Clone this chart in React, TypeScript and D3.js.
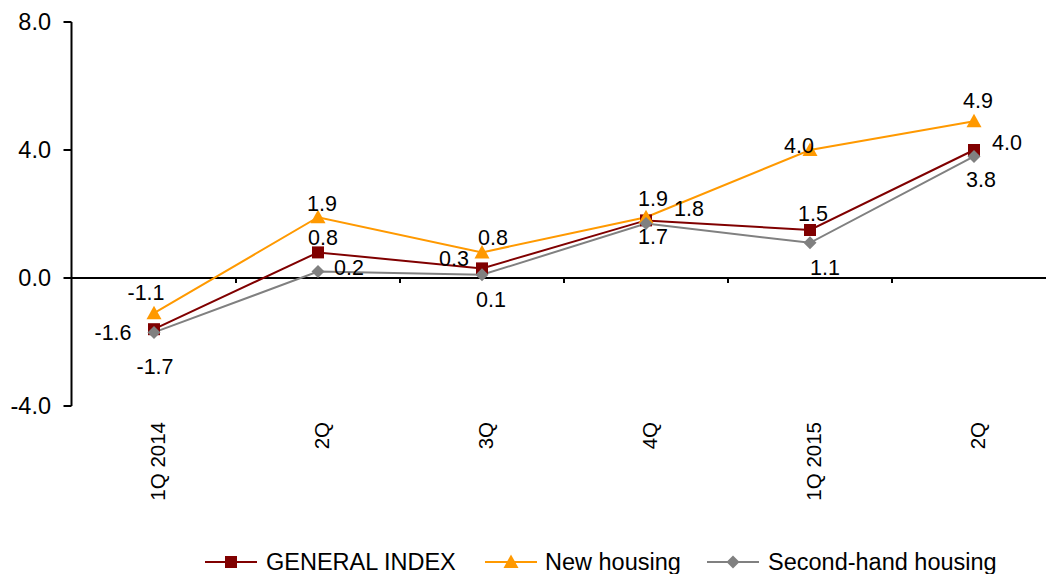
import React from "react";
import * as d3 from "d3";

// Quarter labels (note: "2Q" appears twice, so we index by position)
const quarters: string[] = ["1Q 2014", "2Q", "3Q", "4Q", "1Q 2015", "2Q"];

const generalIndex: number[] = [-1.6, 0.8, 0.3, 1.8, 1.5, 4.0];
const newHousing: number[] = [-1.1, 1.9, 0.8, 1.9, 4.0, 4.9];
const secondHand: number[] = [-1.7, 0.2, 0.1, 1.7, 1.1, 3.8];

const yTicks: number[] = [-4, 0, 4, 8];

interface Series {
  name: string;
  values: number[];
  color: string;
  marker: "square" | "triangle" | "diamond";
  // nudge of each data label from its point, in px
  nudge: [number, number][];
}

const series: Series[] = [
  {
    name: "GENERAL INDEX",
    values: generalIndex,
    color: "#800000",
    marker: "square",
    nudge: [[-41, 3], [5, -15], [-28, -10], [43, -12], [3, -17], [33, -8]],
  },
  {
    name: "New housing",
    values: newHousing,
    color: "#FF9900",
    marker: "triangle",
    nudge: [[-8, -21], [4, -14], [11, -15], [7, -19], [-11, -5], [4, -21]],
  },
  {
    name: "Second-hand housing",
    values: secondHand,
    color: "#808080",
    marker: "diamond",
    nudge: [[1, 34], [31, -4], [9, 25], [7, 13], [15, 25], [7, 23]],
  },
];

const W = 1046;
const H = 574;
const FONT = "'Liberation Sans', Arial, Helvetica, sans-serif";

const Marker: React.FC<{ type: Series["marker"]; x: number; y: number; color: string }> = ({ type, x, y, color }) => {
  if (type === "square") return <rect x={x - 6} y={y - 6} width={12} height={12} fill={color} />;
  if (type === "triangle")
    return <path d={`M${x},${y - 7.5} L${x + 7.5},${y + 6} L${x - 7.5},${y + 6} Z`} fill={color} />;
  return <path d={`M${x},${y - 6.5} L${x + 6.5},${y} L${x},${y + 6.5} L${x - 6.5},${y} Z`} fill={color} />;
};

const App: React.FC = () => {
  const idx = quarters.map((_, i) => i);
  const x = d3.scaleBand<number>().domain(idx).range([72, 1056]);
  const cx = (i: number) => (x(i) as number) + x.bandwidth() / 2;
  const y = d3.scaleLinear().domain([-4, 8]).range([406, 22]);

  const line = d3
    .line<number>()
    .x((_, i) => cx(i))
    .y((d) => y(d));

  const axisX = 71.5;
  const y0 = y(0);

  const legend = [
    { s: series[0], lx: 205, tx: 266 },
    { s: series[1], lx: 485, tx: 545 },
    { s: series[2], lx: 707, tx: 768 },
  ];
  const legendY = 562;

  return (
    <svg
      width={W}
      height={H}
      style={{ position: "absolute", left: 0, top: 0, background: "#fff" }}
      fontFamily={FONT}
    >
      {/* y axis */}
      <line x1={axisX} x2={axisX} y1={y(8)} y2={y(-4)} stroke="#000" strokeWidth={2} />
      {yTicks.map((t) => (
        <g key={t}>
          <line x1={axisX - 8} x2={axisX} y1={y(t)} y2={y(t)} stroke="#000" strokeWidth={2} />
          <text x={51} y={y(t)} dy="0.35em" textAnchor="end" fontSize={23.5} fill="#000">
            {t.toFixed(1)}
          </text>
        </g>
      ))}

      {/* x axis at zero */}
      <line x1={axisX} x2={W} y1={y0} y2={y0} stroke="#000" strokeWidth={2} />
      {idx.slice(1).map((i) => (
        <line key={i} x1={x(i)} x2={x(i)} y1={y0} y2={y0 + 5} stroke="#000" strokeWidth={2} />
      ))}
      {quarters.map((q, i) => (
        <text
          key={i}
          transform={`translate(${cx(i) + 11},422) rotate(-90)`}
          textAnchor="end"
          fontSize={20.5}
          fill="#000"
        >
          {q}
        </text>
      ))}

      {/* lines */}
      {series.map((s) => (
        <path key={s.name} d={line(s.values) || ""} fill="none" stroke={s.color} strokeWidth={2} />
      ))}
      {series.map((s) =>
        s.values.map((v, i) => <Marker key={s.name + i} type={s.marker} x={cx(i)} y={y(v)} color={s.color} />)
      )}

      {/* data labels */}
      {series.map((s) =>
        s.values.map((v, i) => (
          <text
            key={"l" + s.name + i}
            x={cx(i) + s.nudge[i][0]}
            y={y(v) + s.nudge[i][1]}
            dy="0.35em"
            textAnchor="middle"
            fontSize={21.5}
            fill="#000"
          >
            {v.toFixed(1)}
          </text>
        ))
      )}

      {/* legend */}
      {legend.map(({ s, lx, tx }) => (
        <g key={s.name}>
          <line x1={lx} x2={lx + 52} y1={legendY} y2={legendY} stroke={s.color} strokeWidth={2} />
          <Marker type={s.marker} x={lx + 26} y={legendY} color={s.color} />
          <text x={tx} y={legendY} dy="0.35em" fontSize={23.5} fill="#000">
            {s.name}
          </text>
        </g>
      ))}
    </svg>
  );
};

export default App;
